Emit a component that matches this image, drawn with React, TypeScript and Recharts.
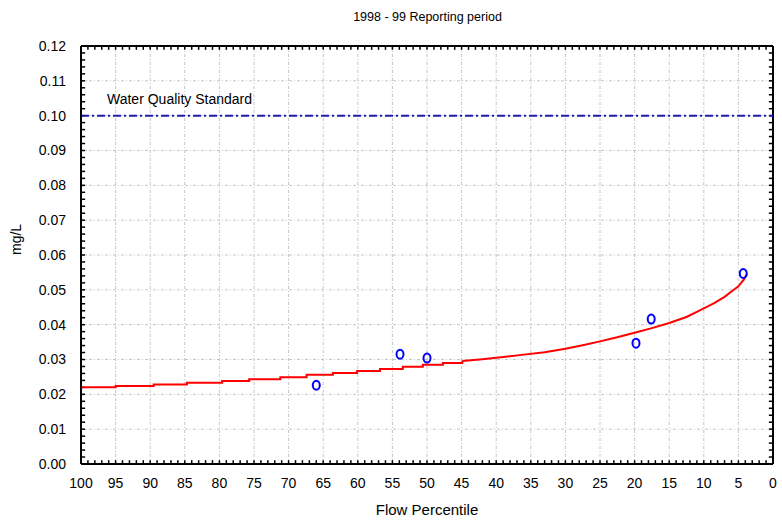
import {
  ComposedChart, Line, Scatter, XAxis, YAxis, CartesianGrid, ReferenceLine,
} from 'recharts';

// fitted curve (flow percentile -> concentration, mg/L): stepped low-flow part
const stepFlow = [100, 95, 89.5, 84.7, 79.6, 75.7, 71.2, 67.4, 63.6, 60.1, 56.8, 53.5, 50.6, 47.7, 44.9];
const stepConc = [
  0.0220, 0.0224, 0.0228, 0.0233, 0.0238, 0.0243, 0.0249, 0.0256, 0.0261, 0.0267, 0.0273,
  0.0279, 0.0285, 0.0290, 0.0296,
];
// ...and the smoother high-flow part
const curveFlow = [44.9, 42, 39, 36, 33, 30, 27.5, 25, 22.5, 20, 17.5, 15, 12.5, 10.5, 8.5, 7, 6, 5, 4.2, 3.8];
const curveConc = [
  0.0296, 0.0301, 0.0307, 0.0314, 0.0321, 0.0331, 0.0341, 0.0352, 0.0364, 0.0377, 0.0390,
  0.0405, 0.0422, 0.0442, 0.0462, 0.0480, 0.0495, 0.0510, 0.0530, 0.0545,
];

// observed samples
const obsFlow = [66.0, 53.9, 50.0, 19.8, 17.6, 4.3];
const obsConc = [0.0226, 0.0315, 0.0304, 0.0347, 0.0416, 0.0547];

const WQS = 0.10;

const xTicks = [100, 95, 90, 85, 80, 75, 70, 65, 60, 55, 50, 45, 40, 35, 30, 25, 20, 15, 10, 5, 0];
const yTicks = [0, 0.01, 0.02, 0.03, 0.04, 0.05, 0.06, 0.07, 0.08, 0.09, 0.10, 0.11, 0.12];

const X_MIN = 0, X_MAX = 100, Y_MIN = 0, Y_MAX = 0.12;

// minor tick marks round the frame (every 1 % and every 0.002 mg/L)
const minorX = Array.from({ length: 101 }, (_, i) => i);
const minorY = Array.from({ length: 61 }, (_, i) => +(i * 0.002).toFixed(3));
const TICK_DY = 0.0011; // ~4px in y units
const TICK_DX = 0.6;    // ~4px in x units

const stepData = stepFlow.map((x, i) => ({ x, y: stepConc[i] }));
const curveData = curveFlow.map((x, i) => ({ x, y: curveConc[i] }));
const obsData = obsFlow.map((x, i) => ({ x, y: obsConc[i] }));

const FONT = '"Liberation Sans", Arial, sans-serif';
const tickStyle = { fill: '#000', fontSize: 14, fontFamily: FONT };
const frame = { stroke: '#000', strokeWidth: 2 };

const Ring = (p: any) => (
  <ellipse cx={p.cx} cy={p.cy} rx={3.5} ry={4.5} fill="none" stroke="#0000ff" strokeWidth={2} />
);

const WqsLabel = (p: any) => (
  <text x={p.viewBox.x + 26} y={p.viewBox.y - 12} fill="#000" fontSize={14} fontFamily={FONT}>
    Water Quality Standard
  </text>
);

export default function App() {
  return (
    <div style={{ position: 'absolute', left: 0, top: 0, width: 782, height: 521, background: '#fff', fontFamily: FONT }}>
      <div style={{ position: 'absolute', left: 0, top: 10, width: 855, textAlign: 'center', fontSize: 12.5 }}>
        1998 - 99 Reporting period
      </div>
      <ComposedChart width={782} height={521} margin={{ top: 46, right: 9, bottom: 0, left: 0 }}>
        <CartesianGrid stroke="#c4c4c4" strokeDasharray="3 2 1 2" />
        <XAxis
          type="number" dataKey="x" domain={[X_MIN, X_MAX]} reversed ticks={xTicks} interval={0}
          height={57} tickLine={false} tickMargin={8} tick={tickStyle} axisLine={frame}
          label={{ value: 'Flow Percentile', position: 'insideBottom', offset: 6, fill: '#000', fontSize: 15, fontFamily: FONT }}
        />
        <YAxis
          type="number" dataKey="y" domain={[Y_MIN, Y_MAX]} ticks={yTicks} interval={0}
          width={81} tickLine={false} tickMargin={9} tick={tickStyle}
          tickFormatter={(v: number) => v.toFixed(2)} axisLine={frame}
          label={{ value: 'mg/L', angle: -90, position: 'insideLeft', offset: 16, fill: '#000', fontSize: 14, fontFamily: FONT }}
        />

        {/* top and right sides of the frame */}
        <ReferenceLine y={Y_MAX} stroke="#000" strokeWidth={2} />
        <ReferenceLine x={X_MIN} stroke="#000" strokeWidth={2} />

        {minorX.map(v => (
          <ReferenceLine key={`b${v}`} segment={[{ x: v, y: Y_MIN }, { x: v, y: Y_MIN + TICK_DY }]} stroke="#000" strokeWidth={1.5} />
        ))}
        {minorX.map(v => (
          <ReferenceLine key={`t${v}`} segment={[{ x: v, y: Y_MAX }, { x: v, y: Y_MAX - TICK_DY }]} stroke="#000" strokeWidth={1.5} />
        ))}
        {minorY.map(v => (
          <ReferenceLine key={`l${v}`} segment={[{ x: X_MAX, y: v }, { x: X_MAX - TICK_DX, y: v }]} stroke="#000" strokeWidth={1.5} />
        ))}
        {minorY.map(v => (
          <ReferenceLine key={`r${v}`} segment={[{ x: X_MIN, y: v }, { x: X_MIN + TICK_DX, y: v }]} stroke="#000" strokeWidth={1.5} />
        ))}

        <ReferenceLine y={WQS} stroke="#1c1cb4" strokeWidth={2} strokeDasharray="8 3 2 3" label={WqsLabel} />
        <Line data={stepData} dataKey="y" type="stepAfter" stroke="#ff0000" strokeWidth={2} dot={false} isAnimationActive={false} />
        <Line data={curveData} dataKey="y" type="linear" stroke="#ff0000" strokeWidth={2} dot={false} isAnimationActive={false} />
        <Scatter data={obsData} dataKey="y" shape={Ring} isAnimationActive={false} />
      </ComposedChart>
    </div>
  );
}
